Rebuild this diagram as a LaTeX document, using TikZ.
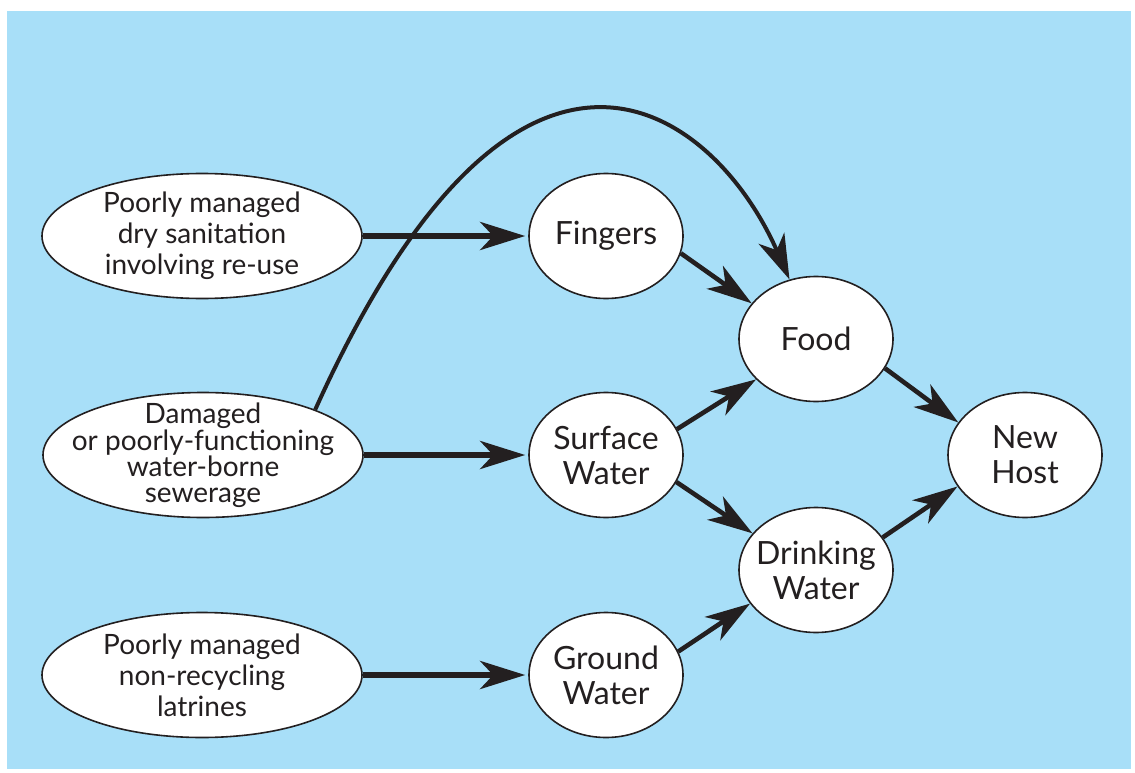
\documentclass[tikz,border=0pt]{standalone}
\usepackage{fontspec}
\setmainfont{Lato}
\usepackage{tikz}
\usetikzlibrary{shapes, arrows.meta, calc}
\definecolor{skyBg}{RGB}{168,223,248}
\definecolor{inkDark}{RGB}{35,31,32}
\tikzstyle{sourceNode}=[ellipse, draw=inkDark, line width=1.6pt, fill=white,
  minimum width=320pt, minimum height=125pt, inner xsep=-30pt, inner ysep=-10pt,
  align=center, font=\fontsize{28}{31}\selectfont, text=inkDark]
\tikzstyle{routeNode}=[ellipse, draw=inkDark, line width=1.6pt, fill=white,
  minimum width=154pt, minimum height=125pt, inner xsep=-15pt, inner ysep=-5pt,
  align=center, font=\fontsize{32}{35}\selectfont, text=inkDark]
\tikzstyle{arrow}=[-{Stealth[length=45pt, width=28pt, inset=13pt]},
  line width=4.6pt, draw=inkDark]
\tikzstyle{longArrow}=[arrow, line width=6pt, shorten >=3pt]

\begin{document}
\begin{tikzpicture}[x=1pt, y=-1pt]
      \useasboundingbox (0,0) rectangle (1135,773);
      \fill[skyBg] (7,11) rectangle (1131,769);

      % sources
      \node[sourceNode] (dry) at (202,236)
        {Poorly managed\\dry sanitation\\involving re-use};
      \node[sourceNode, font=\fontsize{28}{25.5}\selectfont] (sewer) at (203,455)
        {Damaged\\or poorly-functioning\\water-borne\\sewerage};
      \node[sourceNode] (latrine) at (202,675)
        {Poorly managed\\non-recycling\\latrines};

      % routes
      \node[routeNode] (fingers) at (606,236) {Fingers};
      \node[routeNode] (surface) at (606,455) {Surface\\Water};
      \node[routeNode] (ground) at (606,675) {Ground\\Water};
      \node[routeNode] (food) at (816,339) {Food};
      \node[routeNode] (drinking) at (816,570) {Drinking\\Water};
      \node[routeNode] (host) at (1025,455) {New\\Host};

      \foreach \s/\t in {dry/fingers, sewer/surface, latrine/ground}
      \draw[longArrow] (\s) -- (\t);

      \draw[arrow] (fingers.-13) -- (food.151);
      \draw[arrow] (surface.20) -- (food.-146);
      \draw[arrow] (surface.-21) -- (drinking.150);
      \draw[arrow] (ground.18) -- (drinking.-153);
      \draw[arrow] (food.-23) -- (host.154);
      \draw[arrow] (drinking.26) -- (host.-155);

      \draw[arrow, line width=4pt] (sewer.22)
        .. controls +(205,-455) and +(-74,-169) .. (food.114);
    \end{tikzpicture}
\end{document}
